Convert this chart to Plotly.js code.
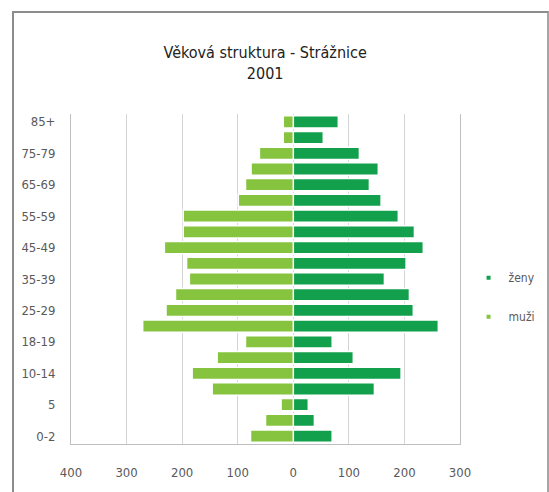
<!DOCTYPE html>
<html>
<head>
<meta charset="utf-8">
<script src="https://cdn.plot.ly/plotly-3.0.1.min.js"></script>
<style>
  html, body { margin: 0; padding: 0; background: #ffffff; }
  #chart { position: absolute; left: 0; top: 0; width: 549px; height: 492px; }
  #frame { position: absolute; left: 12px; top: 11px; width: 533px; height: 500px;
           border-left: 2px solid #8c8c8c; border-top: 2px solid #8c8c8c; border-right: 2px solid #a6a6a6;
           pointer-events: none; }
</style>
</head>
<body>
<div id="chart"></div>
<div id="frame"></div>
<script>
// Age categories (bottom to top)
const categories = ["0-2","3-4","5","6-9","10-14","15-17","18-19","20-24","25-29","30-34",
                    "35-39","40-44","45-49","50-54","55-59","60-64","65-69","70-74","75-79","80-84","85+"];
// Women (ženy)
const zeny = [70, 38, 27, 146, 194, 108, 70, 261, 216, 209,
              164, 203, 234, 218, 189, 158, 137, 153, 119, 54, 81];
// Men (muži)
const muzi = [77, 50, 22, 146, 182, 137, 86, 271, 229, 212,
              187, 192, 232, 198, 198, 99, 86, 76, 61, 18, 18];
// Tick labels
const shownLabels = ["0-2","5","10-14","18-19","25-29","35-39","45-49","55-59","65-69","75-79","85+"];
const xTickVals = [-400, -300, -200, -100, 0, 100, 200, 300];
const xTickText = ["400", "300", "200", "100", "0", "100", "200", "300"];

const colZeny = "#12a04c";
const colMuzi = "#86c440";
const tickFont = {family: "Liberation Sans Narrow, DejaVu Sans Condensed, sans-serif", size: 13, color: "#595959"};

const traces = [
  {type: "bar", orientation: "h", y: categories, x: zeny, name: "ženy",
   marker: {color: colZeny, line: {color: "#ffffff", width: 1.5}}, showlegend: false, hoverinfo: "x+y+name"},
  {type: "bar", orientation: "h", y: categories, x: muzi.map(v => -v), name: "muži",
   marker: {color: colMuzi, line: {color: "#ffffff", width: 1.5}}, showlegend: false, hoverinfo: "y+name"},
  {type: "scatter", mode: "markers", x: [null], y: [null], name: "ženy", legendgroup: "a",
   marker: {symbol: "square", size: 4, color: colZeny}},
  {type: "scatter", mode: "markers", x: [null], y: [null], name: "muži", legendgroup: "b",
   marker: {symbol: "square", size: 4, color: colMuzi}}
];

const layout = {
  width: 549, height: 492,
  margin: {l: 71, r: 89, t: 114, b: 48, autoexpand: false},
  paper_bgcolor: "#ffffff", plot_bgcolor: "#ffffff",
  barmode: "relative", bargap: 0.22,
  title: {text: "Věková struktura - Strážnice<br>2001", x: 0.483, xanchor: "center", y: 0.882, yanchor: "middle",
          font: {family: "Liberation Sans Narrow, DejaVu Sans Condensed, sans-serif", size: 16, color: "#222222"}},
  xaxis: {range: [-400, 300], tickvals: xTickVals, ticktext: xTickText, tickfont: tickFont,
          showgrid: true, gridcolor: "#d4d4d4", gridwidth: 1, zeroline: false,
          showline: true, linecolor: "#bfbfbf", linewidth: 1, ticks: "", ticklabelstandoff: 16, fixedrange: true},
  yaxis: {type: "category", categoryorder: "array", categoryarray: categories, range: [-0.5, 20.5],
          tickvals: shownLabels, tickfont: tickFont, showgrid: false, zeroline: false,
          showline: true, mirror: true, linecolor: "#bfbfbf", linewidth: 1, ticks: "", ticklabelstandoff: 12, fixedrange: true},
  legend: {x: 1.022, xanchor: "left", y: 0.445, yanchor: "middle", tracegroupgap: 20,
           font: {family: "Liberation Sans Narrow, DejaVu Sans Condensed, sans-serif", size: 12, color: "#595959"},
           itemwidth: 30, bgcolor: "rgba(0,0,0,0)"},
  showlegend: true
};

Plotly.newPlot("chart", traces, layout, {displayModeBar: false, staticPlot: true});
</script>
</body>
</html>
